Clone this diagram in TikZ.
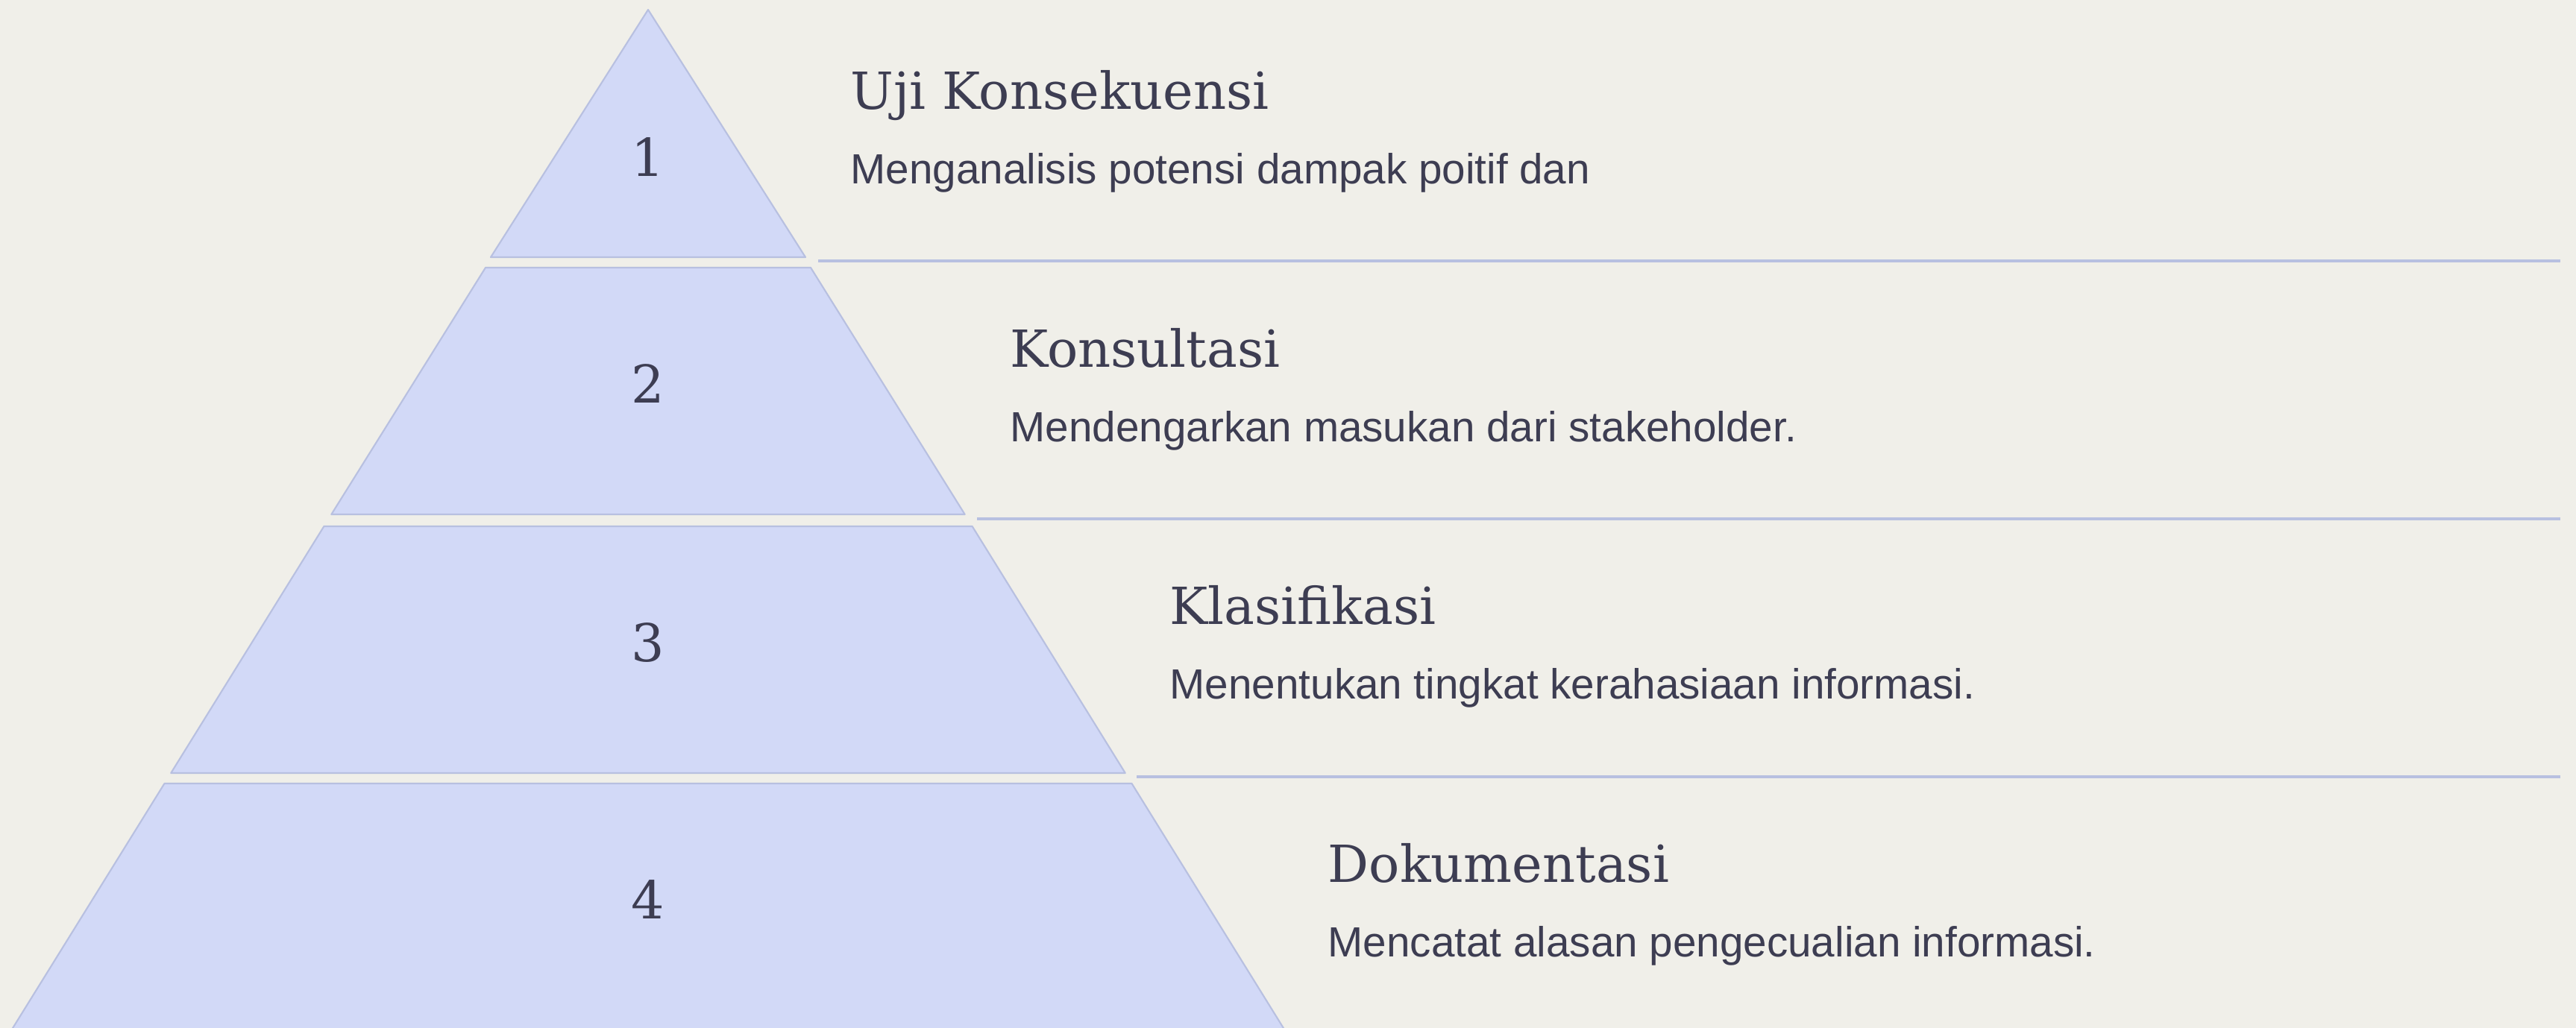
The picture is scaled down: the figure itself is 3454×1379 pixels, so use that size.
\documentclass[tikz,border=0pt]{standalone}
\usepackage{fontspec}
\setmainfont{Liberation Sans}
\newfontfamily\titlefont{DejaVu Serif}
\definecolor{bgcol}{HTML}{F0EFE9}
\definecolor{tiercol}{HTML}{D2D9F7}
\definecolor{edgecol}{HTML}{B8C0E0}
\definecolor{inkcol}{HTML}{3D3D52}
\begin{document}
\begin{tikzpicture}[x=0.01cm,y=-0.01cm,
  tier/.style={fill=tiercol,draw=edgecol,line width=0.6pt,line join=round},
  sep/.style={draw=edgecol,line width=1pt},
  num/.style={anchor=base,inner sep=0,text=inkcol,font=\titlefont\fontsize{19.9}{24}\selectfont},
  ttl/.style={anchor=base west,inner sep=0,text=inkcol,font=\titlefont\fontsize{19.5}{23}\selectfont},
  dsc/.style={anchor=base west,inner sep=0,text=inkcol,font=\fontsize{16.1}{19}\selectfont}]
\useasboundingbox (0,0) rectangle (3454,1379);
\fill[bgcol] (0,0) rectangle (3454,1379);
\clip (0,0) rectangle (3454,1379);
% pyramid tiers
\draw[tier] (869,13) -- (1080,345) -- (658,345) -- cycle;
\draw[tier] (651,359) -- (1087,359) -- (1293.7,690) -- (444.3,690) -- cycle;
\draw[tier] (434.4,706) -- (1303.6,706) -- (1508.8,1037) -- (229.2,1037) -- cycle;
\draw[tier] (220.5,1051) -- (1517.5,1051) -- (1733.9,1400) -- (4.1,1400) -- cycle;
% separators
\draw[sep] (1097,350) -- (3433,350);
\draw[sep] (1310,696) -- (3433,696);
\draw[sep] (1524,1042) -- (3433,1042);
% numbers
\node[num] (n1) at (869,237) {1};
\node[num] (n2) at (869,540) {2};
\node[num] (n3) at (869,887) {3};
\node[num] (n4) at (869,1232) {4};
% texts
\node[ttl] (t1) at (1140,147) {Uji Konsekuensi};
\node[dsc] (d1) at (1140,247) {Menganalisis potensi dampak poitif dan};
\node[ttl] (t2) at (1354,492) {Konsultasi};
\node[dsc] (d2) at (1354,592) {Mendengarkan masukan dari stakeholder.};
\node[ttl] (t3) at (1568,837) {Klasifikasi};
\node[dsc] (d3) at (1568,937) {Menentukan tingkat kerahasiaan informasi.};
\node[ttl] (t4) at (1780,1183) {Dokumentasi};
\node[dsc] (d4) at (1780,1283) {Mencatat alasan pengecualian informasi.};
\end{tikzpicture}
\end{document}
